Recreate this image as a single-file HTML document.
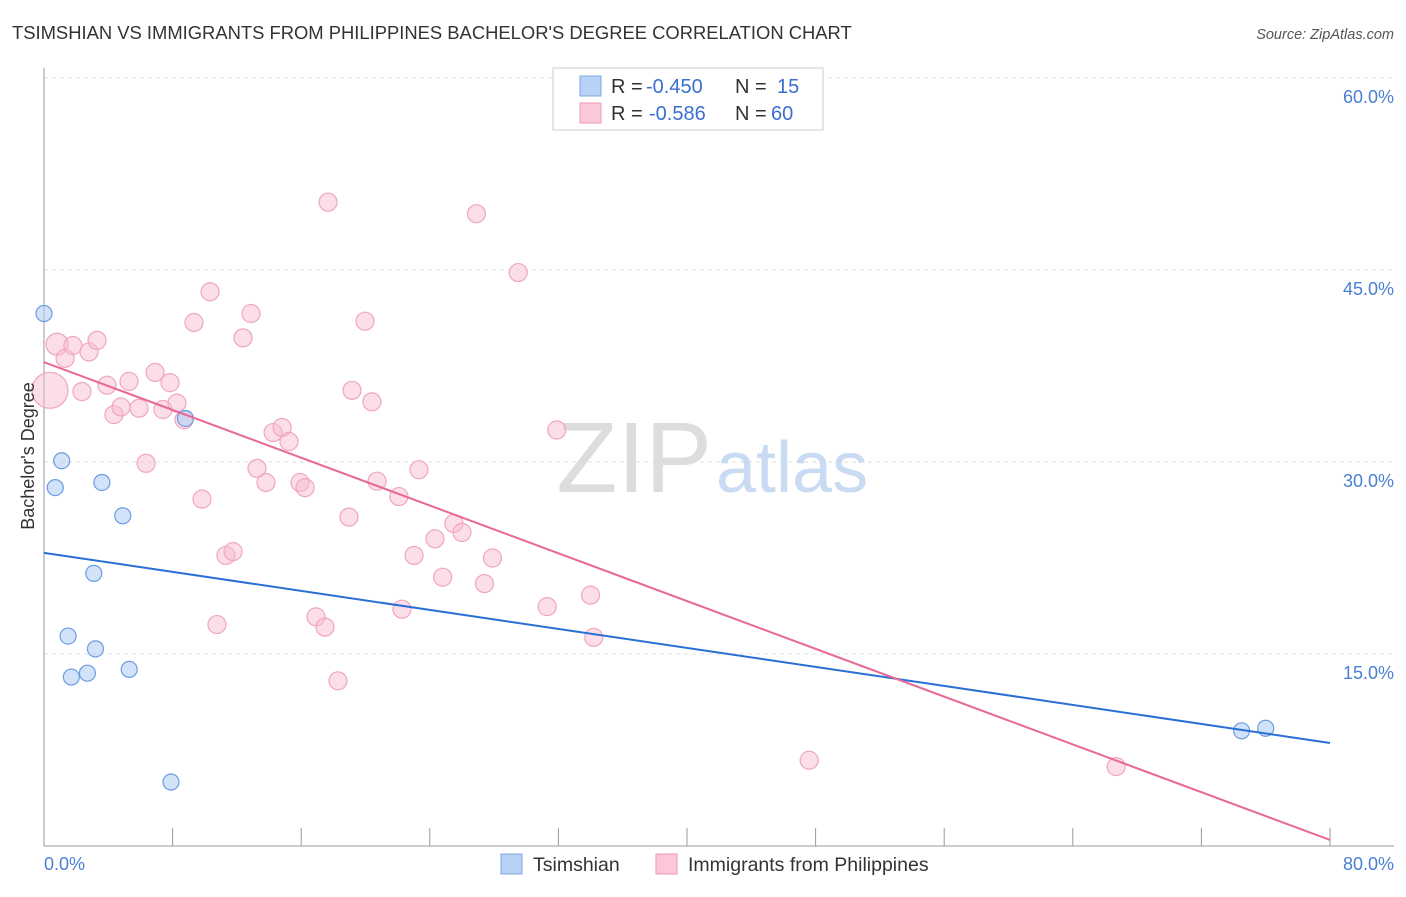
<!DOCTYPE html>
<html><head><meta charset="utf-8">
<style>
body{margin:0;background:#fff;font-family:"Liberation Sans",sans-serif;}
svg text{font-family:"Liberation Sans",sans-serif;}
</style></head>
<body>
<svg id="chart" width="1406" height="892" xmlns="http://www.w3.org/2000/svg">
<text x="12" y="39" font-size="18.4" fill="#333">TSIMSHIAN VS IMMIGRANTS FROM PHILIPPINES BACHELOR'S DEGREE CORRELATION CHART</text>
<text x="1394" y="39" font-size="14.5" fill="#555" text-anchor="end" font-style="italic">Source: ZipAtlas.com</text>
<g id="grid"></g>
<g id="xticks"></g>
<text x="712" y="492" font-size="100" fill="#ddd" text-anchor="end" font-family="Liberation Serif">ZIP</text>
<text x="716" y="492" font-size="72" fill="#c9dbf2">atlas</text>
<g id="pts"></g>
<g id="lines"></g>
<text transform="translate(34,456) rotate(-90)" font-size="18" fill="#333" text-anchor="middle">Bachelor's Degree</text>
<text x="44" y="870" font-size="18" fill="#4a7fd6">0.0%</text>
<text x="1394" y="870" font-size="18" fill="#4a7fd6" text-anchor="end">80.0%</text>
<g>
<rect x="553" y="68" width="270" height="62" fill="#fff" stroke="#ccc"/>
<rect x="580" y="76" width="21" height="20" fill="#b8d2f5" stroke="#7ea8e4"/>
<rect x="580" y="103" width="21" height="20" fill="#fac8d6" stroke="#ee9ab4"/>
<text x="611" y="93" font-size="20" fill="#333">R =</text>
<text x="646" y="93" font-size="20" fill="#3a6fd0">-0.450</text>
<text x="735" y="93" font-size="20" fill="#333">N =</text>
<text x="777" y="93" font-size="20" fill="#3a6fd0">15</text>
<text x="611" y="120" font-size="20" fill="#333">R =</text>
<text x="649" y="120" font-size="20" fill="#3a6fd0">-0.586</text>
<text x="735" y="120" font-size="20" fill="#333">N =</text>
<text x="771" y="120" font-size="20" fill="#3a6fd0">60</text>
</g>
<g>
<rect x="501" y="854" width="21" height="20" fill="#b8d2f5" stroke="#7ea8e4"/>
<text x="533" y="871" font-size="19.5" fill="#333">Tsimshian</text>
<rect x="656" y="854" width="21" height="20" fill="#fac8d6" stroke="#ee9ab4"/>
<text x="688" y="871" font-size="19.5" fill="#333">Immigrants from Philippines</text>
</g>
</svg>
<script>
const yTicks=[15,30,45,60];
const blueX=[0,0.7,1.1,3.6,4.9,3.1,1.5,3.2,1.7,2.7,5.3,8.8,7.9,74.5,76.0];
const blueY=[41.6,28.0,30.1,28.4,25.8,21.3,16.4,15.4,13.2,13.5,13.8,33.4,5.0,9.0,9.2];
const pinkX=[0.37,0.81,1.31,1.80,2.80,3.30,2.36,3.92,4.35,4.79,5.29,5.91,6.35,6.91,7.40,7.84,8.27,8.71,9.33,9.83,10.33,10.76,11.32,11.76,12.38,12.88,13.25,13.81,14.25,14.81,15.24,15.93,16.24,16.92,17.48,17.67,18.29,18.97,19.16,19.97,20.40,20.72,22.08,22.27,23.02,23.33,24.32,24.8,25.5,26.0,26.9,27.4,27.9,29.5,31.3,31.9,34.0,34.2,47.6,66.7];
const pinkY=[35.6,39.2,38.1,39.1,38.6,39.5,35.5,36.0,33.7,34.3,36.3,34.2,29.9,37.0,34.1,36.2,34.6,33.3,40.9,27.1,43.3,17.3,22.7,23.0,39.7,41.6,29.5,28.4,32.3,32.7,31.6,28.4,28.0,17.9,17.1,50.3,12.9,25.7,35.6,41.0,34.7,28.5,27.3,18.5,22.7,29.4,24.0,21.0,25.2,24.5,49.4,20.5,22.5,44.8,18.7,32.5,19.6,16.3,6.7,6.2];
const pinkR=[18,11];
const blueLine=[22.9,8.05];
const pinkLine=[37.8,0.47];
const X=v=>44+v/80*1286, Y=v=>846-v/15*192;
const NS='http://www.w3.org/2000/svg';
function mk(t,a,p){const e=document.createElementNS(NS,t);for(const k in a)e.setAttribute(k,a[k]);p.appendChild(e);return e;}
const grid=document.getElementById('grid');
yTicks.forEach(t=>{
  const l=mk('line',{x1:44,x2:1394,y1:Y(t),y2:Y(t),stroke:'#ddd','stroke-dasharray':'4,4'},grid);
  
  
  const tx=mk('text',{x:1394,y:Y(t)+25,'font-size':18,fill:'#4a7fd6','text-anchor':'end'},grid);
  tx.textContent=t.toFixed(1)+'%';
  
  
});
const xt=document.getElementById('xticks');
mk('line',{x1:44,x2:44,y1:68,y2:846,stroke:'#999'},xt);
mk('line',{x1:44,x2:1394,y1:846,y2:846,stroke:'#999'},xt);
for(let i=1;i<=10;i++){const l=mk('line',{x1:X(i*8),x2:X(i*8),y1:828,y2:846,stroke:'#999'},xt);
  
  }
const pts=document.getElementById('pts');
pinkX.forEach((v,i)=>{const c=mk('circle',{cx:X(v),cy:Y(pinkY[i]),r:pinkR[i]||9,fill:'rgba(248,190,208,0.5)',stroke:'#f0a6be','stroke-width':1.2},pts);
  
  });
blueX.forEach((v,i)=>{const c=mk('circle',{cx:X(v),cy:Y(blueY[i]),r:8,fill:'rgba(180,206,245,0.6)',stroke:'#6d9ce0','stroke-width':1.2},pts);
  
  });
const ln=document.getElementById('lines');
const b=mk('line',{x1:X(0),y1:Y(blueLine[0]),x2:X(80),y2:Y(blueLine[1]),stroke:'#2a6fd6','stroke-width':2},ln);


const p=mk('line',{x1:X(0),y1:Y(pinkLine[0]),x2:X(80),y2:Y(pinkLine[1]),stroke:'#e86896','stroke-width':2},ln);


</script>
</body></html>
